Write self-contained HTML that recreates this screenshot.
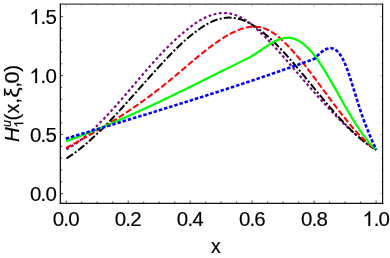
<!DOCTYPE html>
<html><head><meta charset="utf-8"><style>
html,body{margin:0;padding:0;background:#fff;}
svg{display:block;font-family:"Liberation Sans",sans-serif;will-change:transform;}
</style></head><body>
<svg width="390" height="258" viewBox="0 0 390 258">
<rect width="390" height="258" fill="#fff"/>
<g>
<path d="M66.5,149.21 L67.5,148.69 L68.5,148.14 L69.5,147.58 L70.5,147.00 L71.5,146.40 L72.5,145.78 L73.5,145.14 L74.5,144.49 L75.5,143.82 L76.5,143.13 L77.5,142.43 L78.5,141.71 L79.5,140.97 L80.5,140.22 L81.5,139.45 L82.5,138.67 L83.5,137.87 L84.5,137.05 L85.5,136.23 L86.5,135.38 L87.5,134.53 L88.5,133.66 L89.5,132.78 L90.5,131.88 L91.5,130.98 L92.5,130.06 L93.5,129.13 L94.5,128.18 L95.5,127.23 L96.5,126.26 L97.5,125.28 L98.5,124.30 L99.5,123.30 L100.5,122.29 L101.5,121.27 L102.5,120.25 L103.5,119.21 L104.5,118.17 L105.5,117.11 L106.5,116.05 L107.5,114.98 L108.5,113.90 L109.5,112.82 L110.5,111.73 L111.5,110.63 L112.5,109.53 L113.5,108.41 L114.5,107.30 L115.5,106.17 L116.5,105.05 L117.5,103.91 L118.5,102.78 L119.5,101.63 L120.5,100.49 L121.5,99.34 L122.5,98.18 L123.5,97.03 L124.5,95.86 L125.5,94.70 L126.5,93.54 L127.5,92.37 L128.5,91.20 L129.5,90.03 L130.5,88.86 L131.5,87.68 L132.5,86.51 L133.5,85.33 L134.5,84.16 L135.5,82.99 L136.5,81.81 L137.5,80.64 L138.5,79.47 L139.5,78.30 L140.5,77.13 L141.5,75.96 L142.5,74.79 L143.5,73.63 L144.5,72.47 L145.5,71.32 L146.5,70.16 L147.5,69.01 L148.5,67.87 L149.5,66.73 L150.5,65.59 L151.5,64.46 L152.5,63.33 L153.5,62.21 L154.5,61.09 L155.5,59.98 L156.5,58.88 L157.5,57.78 L158.5,56.69 L159.5,55.61 L160.5,54.53 L161.5,53.47 L162.5,52.41 L163.5,51.35 L164.5,50.31 L165.5,49.28 L166.5,48.25 L167.5,47.24 L168.5,46.23 L169.5,45.24 L170.5,44.25 L171.5,43.28 L172.5,42.31 L173.5,41.36 L174.5,40.42 L175.5,39.49 L176.5,38.57 L177.5,37.67 L178.5,36.78 L179.5,35.90 L180.5,35.03 L181.5,34.18 L182.5,33.34 L183.5,32.52 L184.5,31.71 L185.5,30.91 L186.5,30.07 L187.5,29.24 L188.5,28.42 L189.5,27.63 L190.5,26.85 L191.5,26.08 L192.5,25.34 L193.5,24.61 L194.5,23.91 L195.5,23.22 L196.5,22.55 L197.5,21.90 L198.5,21.27 L199.5,20.67 L200.5,20.08 L201.5,19.51 L202.5,18.97 L203.5,18.44 L204.5,17.94 L205.5,17.46 L206.5,17.01 L207.5,16.58 L208.5,16.16 L209.5,15.78 L210.5,15.42 L211.5,15.08 L212.5,14.76 L213.5,14.47 L214.5,14.21 L215.5,13.97 L216.5,13.76 L217.5,13.57 L218.5,13.41 L219.5,13.29 L220.5,13.19 L221.5,13.12 L222.5,13.07 L223.5,13.05 L224.5,13.05 L225.5,13.08 L226.5,13.14 L227.5,13.22 L228.5,13.33 L229.5,13.48 L230.5,13.66 L231.5,13.87 L232.5,14.11 L233.5,14.39 L234.5,14.69 L235.5,15.03 L236.5,15.40 L237.5,15.80 L238.5,16.23 L239.5,16.70 L240.5,17.20 L241.5,17.72 L242.5,18.28 L243.5,18.87 L244.5,19.48 L245.5,20.12 L246.5,20.79 L247.5,21.49 L248.5,22.21 L249.5,22.96 L250.5,23.73 L251.5,24.53 L252.5,25.35 L253.5,26.20 L254.5,27.06 L255.5,27.95 L256.5,28.86 L257.5,29.79 L258.5,30.74 L259.5,31.63 L260.5,32.54 L261.5,33.47 L262.5,34.41 L263.5,35.37 L264.5,36.34 L265.5,37.32 L266.5,38.32 L267.5,39.33 L268.5,40.36 L269.5,41.39 L270.5,42.44 L271.5,43.50 L272.5,44.57 L273.5,45.65 L274.5,46.74 L275.5,47.84 L276.5,48.94 L277.5,50.05 L278.5,51.17 L279.5,52.30 L280.5,53.43 L281.5,54.57 L282.5,55.71 L283.5,56.85 L284.5,58.00 L285.5,59.15 L286.5,60.31 L287.5,61.46 L288.5,62.62 L289.5,63.77 L290.5,64.93 L291.5,66.09 L292.5,67.25 L293.5,68.41 L294.5,69.58 L295.5,70.74 L296.5,71.90 L297.5,73.06 L298.5,74.22 L299.5,75.38 L300.5,76.54 L301.5,77.70 L302.5,78.86 L303.5,80.01 L304.5,81.17 L305.5,82.32 L306.5,83.47 L307.5,84.62 L308.5,85.77 L309.5,86.92 L310.5,88.06 L311.5,89.20 L312.5,90.34 L313.5,91.48 L314.5,92.61 L315.5,93.74 L316.5,94.86 L317.5,95.99 L318.5,97.10 L319.5,98.22 L320.5,99.33 L321.5,100.44 L322.5,101.54 L323.5,102.64 L324.5,103.73 L325.5,104.82 L326.5,105.90 L327.5,106.98 L328.5,108.05 L329.5,109.12 L330.5,110.18 L331.5,111.23 L332.5,112.28 L333.5,113.33 L334.5,114.36 L335.5,115.39 L336.5,116.42 L337.5,117.43 L338.5,118.44 L339.5,119.45 L340.5,120.44 L341.5,121.43 L342.5,122.41 L343.5,123.38 L344.5,124.34 L345.5,125.30 L346.5,126.24 L347.5,127.18 L348.5,128.11 L349.5,129.03 L350.5,129.94 L351.5,130.85 L352.5,131.74 L353.5,132.62 L354.5,133.50 L355.5,134.36 L356.5,135.21 L357.5,136.06 L358.5,136.89 L359.5,137.71 L360.5,138.52 L361.5,139.33 L362.5,140.12 L363.5,140.89 L364.5,141.66 L365.5,142.42 L366.5,143.16 L367.5,143.89 L368.5,144.61 L369.5,145.32 L370.5,146.01 L371.5,146.69 L372.5,147.36 L373.5,148.02 L374.5,148.66 L375.5,149.29 L376.3,149.79" fill="none" stroke="#800088" stroke-width="2.15" stroke-linejoin="round" stroke-dasharray='2.75 2.55'/>
<path d="M66.5,158.39 L67.5,157.76 L68.5,157.11 L69.5,156.46 L70.5,155.79 L71.5,155.11 L72.5,154.41 L73.5,153.70 L74.5,152.98 L75.5,152.25 L76.5,151.50 L77.5,150.75 L78.5,149.98 L79.5,149.20 L80.5,148.41 L81.5,147.60 L82.5,146.79 L83.5,145.96 L84.5,145.13 L85.5,144.28 L86.5,143.43 L87.5,142.56 L88.5,141.68 L89.5,140.80 L90.5,139.90 L91.5,139.00 L92.5,138.08 L93.5,137.16 L94.5,136.23 L95.5,135.29 L96.5,134.34 L97.5,133.39 L98.5,132.42 L99.5,131.45 L100.5,130.47 L101.5,129.48 L102.5,128.49 L103.5,127.49 L104.5,126.48 L105.5,125.46 L106.5,124.44 L107.5,123.42 L108.5,122.38 L109.5,121.34 L110.5,120.30 L111.5,119.25 L112.5,118.19 L113.5,117.13 L114.5,116.07 L115.5,115.00 L116.5,113.92 L117.5,112.84 L118.5,111.76 L119.5,110.67 L120.5,109.58 L121.5,108.48 L122.5,107.39 L123.5,106.29 L124.5,105.18 L125.5,104.07 L126.5,102.96 L127.5,101.85 L128.5,100.74 L129.5,99.62 L130.5,98.50 L131.5,97.38 L132.5,96.26 L133.5,95.14 L134.5,94.02 L135.5,92.89 L136.5,91.77 L137.5,90.64 L138.5,89.51 L139.5,88.39 L140.5,87.26 L141.5,86.13 L142.5,85.01 L143.5,83.88 L144.5,82.76 L145.5,81.64 L146.5,80.52 L147.5,79.39 L148.5,78.28 L149.5,77.16 L150.5,76.04 L151.5,74.93 L152.5,73.82 L153.5,72.71 L154.5,71.61 L155.5,70.50 L156.5,69.40 L157.5,68.31 L158.5,67.22 L159.5,66.13 L160.5,65.04 L161.5,63.96 L162.5,62.88 L163.5,61.81 L164.5,60.74 L165.5,59.68 L166.5,58.62 L167.5,57.57 L168.5,56.52 L169.5,55.48 L170.5,54.45 L171.5,53.42 L172.5,52.40 L173.5,51.39 L174.5,50.39 L175.5,49.39 L176.5,48.40 L177.5,47.43 L178.5,46.46 L179.5,45.50 L180.5,44.56 L181.5,43.62 L182.5,42.69 L183.5,41.78 L184.5,40.88 L185.5,39.99 L186.5,39.12 L187.5,38.26 L188.5,37.41 L189.5,36.57 L190.5,35.75 L191.5,34.95 L192.5,34.16 L193.5,33.39 L194.5,32.63 L195.5,31.89 L196.5,31.16 L197.5,30.43 L198.5,29.68 L199.5,28.95 L200.5,28.24 L201.5,27.55 L202.5,26.88 L203.5,26.23 L204.5,25.60 L205.5,25.00 L206.5,24.41 L207.5,23.85 L208.5,23.31 L209.5,22.79 L210.5,22.30 L211.5,21.83 L212.5,21.38 L213.5,20.95 L214.5,20.55 L215.5,20.18 L216.5,19.82 L217.5,19.50 L218.5,19.19 L219.5,18.92 L220.5,18.67 L221.5,18.44 L222.5,18.24 L223.5,18.07 L224.5,17.92 L225.5,17.80 L226.5,17.71 L227.5,17.65 L228.5,17.61 L229.5,17.60 L230.5,17.63 L231.5,17.67 L232.5,17.75 L233.5,17.86 L234.5,17.99 L235.5,18.15 L236.5,18.33 L237.5,18.55 L238.5,18.79 L239.5,19.06 L240.5,19.35 L241.5,19.67 L242.5,20.02 L243.5,20.39 L244.5,20.79 L245.5,21.21 L246.5,21.66 L247.5,22.14 L248.5,22.64 L249.5,23.16 L250.5,23.71 L251.5,24.28 L252.5,24.88 L253.5,25.50 L254.5,26.15 L255.5,26.82 L256.5,27.51 L257.5,28.22 L258.5,28.96 L259.5,29.72 L260.5,30.51 L261.5,31.27 L262.5,32.04 L263.5,32.82 L264.5,33.62 L265.5,34.44 L266.5,35.28 L267.5,36.13 L268.5,37.01 L269.5,37.90 L270.5,38.81 L271.5,39.73 L272.5,40.67 L273.5,41.63 L274.5,42.60 L275.5,43.58 L276.5,44.58 L277.5,45.59 L278.5,46.61 L279.5,47.65 L280.5,48.70 L281.5,49.76 L282.5,50.83 L283.5,51.92 L284.5,53.01 L285.5,54.11 L286.5,55.23 L287.5,56.35 L288.5,57.48 L289.5,58.62 L290.5,59.76 L291.5,60.92 L292.5,62.08 L293.5,63.25 L294.5,64.42 L295.5,65.60 L296.5,66.78 L297.5,67.97 L298.5,69.16 L299.5,70.36 L300.5,71.56 L301.5,72.76 L302.5,73.97 L303.5,75.18 L304.5,76.40 L305.5,77.61 L306.5,78.83 L307.5,80.05 L308.5,81.27 L309.5,82.50 L310.5,83.72 L311.5,84.94 L312.5,86.16 L313.5,87.39 L314.5,88.61 L315.5,89.83 L316.5,91.05 L317.5,92.27 L318.5,93.49 L319.5,94.70 L320.5,95.92 L321.5,97.13 L322.5,98.33 L323.5,99.54 L324.5,100.73 L325.5,101.93 L326.5,103.12 L327.5,104.31 L328.5,105.49 L329.5,106.66 L330.5,107.83 L331.5,109.00 L332.5,110.15 L333.5,111.30 L334.5,112.45 L335.5,113.58 L336.5,114.71 L337.5,115.83 L338.5,116.94 L339.5,118.05 L340.5,119.14 L341.5,120.23 L342.5,121.30 L343.5,122.37 L344.5,123.43 L345.5,124.47 L346.5,125.50 L347.5,126.53 L348.5,127.54 L349.5,128.54 L350.5,129.53 L351.5,130.50 L352.5,131.46 L353.5,132.41 L354.5,133.35 L355.5,134.27 L356.5,135.18 L357.5,136.07 L358.5,136.95 L359.5,137.81 L360.5,138.66 L361.5,139.49 L362.5,140.31 L363.5,141.11 L364.5,141.89 L365.5,142.66 L366.5,143.41 L367.5,144.14 L368.5,144.85 L369.5,145.55 L370.5,146.22 L371.5,146.88 L372.5,147.52 L373.5,148.14 L374.5,148.74 L375.5,149.32 L376.3,149.76" fill="none" stroke="#000" stroke-width="2.0" stroke-linejoin="round" stroke-dasharray='7.8 2.2 2 2.2'/>
<path d="M66.0,148.00 L67.0,147.47 L68.0,146.93 L69.0,146.40 L70.0,145.86 L71.0,145.32 L72.0,144.78 L73.0,144.24 L74.0,143.70 L75.0,143.16 L76.0,142.61 L77.0,142.06 L78.0,141.51 L79.0,140.96 L80.0,140.41 L81.0,139.86 L82.0,139.30 L83.0,138.74 L84.0,138.18 L85.0,137.62 L86.0,137.06 L87.0,136.49 L88.0,135.93 L89.0,135.36 L90.0,134.79 L91.0,134.21 L92.0,133.64 L93.0,133.06 L94.0,132.48 L95.0,131.90 L96.0,131.32 L97.0,130.73 L98.0,130.15 L99.0,129.56 L100.0,128.96 L101.0,128.37 L102.0,127.77 L103.0,127.18 L104.0,126.57 L105.0,125.97 L106.0,125.36 L107.0,124.76 L108.0,124.14 L109.0,123.53 L110.0,122.91 L111.0,122.30 L112.0,121.67 L113.0,121.05 L114.0,120.42 L115.0,119.80 L116.0,119.16 L117.0,118.53 L118.0,117.89 L119.0,117.25 L120.0,116.61 L121.0,115.96 L122.0,115.31 L123.0,114.66 L124.0,114.01 L125.0,113.35 L126.0,112.69 L127.0,112.02 L128.0,111.36 L129.0,110.69 L130.0,110.02 L131.0,109.34 L132.0,108.66 L133.0,107.98 L134.0,107.29 L135.0,106.60 L136.0,105.91 L137.0,105.22 L138.0,104.52 L139.0,103.81 L140.0,103.11 L141.0,102.40 L142.0,101.69 L143.0,100.97 L144.0,100.25 L145.0,99.53 L146.0,98.80 L147.0,98.07 L148.0,97.34 L149.0,96.60 L150.0,95.86 L151.0,95.11 L152.0,94.37 L153.0,93.61 L154.0,92.86 L155.0,92.10 L156.0,91.33 L157.0,90.56 L158.0,89.79 L159.0,89.02 L160.0,88.24 L161.0,87.45 L162.0,86.67 L163.0,85.87 L164.0,85.08 L165.0,84.28 L166.0,83.47 L167.0,82.67 L168.0,81.85 L169.0,81.04 L170.0,80.22 L171.0,79.39 L172.0,78.56 L173.0,77.73 L174.0,76.89 L175.0,76.06 L176.0,75.21 L177.0,74.37 L178.0,73.52 L179.0,72.68 L180.0,71.83 L181.0,70.98 L182.0,70.13 L183.0,69.27 L184.0,68.42 L185.0,67.57 L186.0,66.72 L187.0,65.87 L188.0,65.02 L189.0,64.17 L190.0,63.32 L191.0,62.47 L192.0,61.63 L193.0,60.79 L194.0,59.95 L195.0,59.11 L196.0,58.28 L197.0,57.45 L198.0,56.63 L199.0,55.81 L200.0,54.99 L201.0,54.18 L202.0,53.37 L203.0,52.57 L204.0,51.77 L205.0,50.98 L206.0,50.20 L207.0,49.42 L208.0,48.65 L209.0,47.88 L210.0,47.13 L211.0,46.38 L212.0,45.64 L213.0,44.90 L214.0,44.18 L215.0,43.46 L216.0,42.76 L217.0,42.06 L218.0,41.37 L219.0,40.69 L220.0,40.03 L221.0,39.37 L222.0,38.72 L223.0,38.09 L224.0,37.47 L225.0,36.86 L226.0,36.26 L227.0,35.67 L228.0,35.10 L229.0,34.55 L230.0,34.01 L231.0,33.48 L232.0,32.97 L233.0,32.48 L234.0,32.01 L235.0,31.55 L236.0,31.11 L237.0,30.68 L238.0,30.25 L239.0,29.83 L240.0,29.44 L241.0,29.07 L242.0,28.73 L243.0,28.41 L244.0,28.11 L245.0,27.84 L246.0,27.60 L247.0,27.38 L248.0,27.19 L249.0,27.03 L250.0,26.89 L251.0,26.79 L252.0,26.71 L253.0,26.66 L254.0,26.65 L255.0,26.66 L256.0,26.71 L257.0,26.79 L258.0,26.90 L259.0,27.05 L260.0,27.23 L261.0,27.44 L262.0,27.70 L263.0,27.98 L264.0,28.31 L265.0,28.67 L266.0,29.07 L267.0,29.50 L268.0,29.98 L269.0,30.49 L270.0,31.03 L271.0,31.58 L272.0,32.16 L273.0,32.79 L274.0,33.45 L275.0,34.15 L276.0,34.89 L277.0,35.66 L278.0,36.46 L279.0,37.30 L280.0,38.16 L281.0,39.05 L282.0,39.97 L283.0,40.92 L284.0,41.88 L285.0,42.87 L286.0,43.88 L287.0,44.91 L288.0,45.96 L289.0,47.02 L290.0,48.09 L291.0,49.18 L292.0,50.28 L293.0,51.39 L294.0,52.51 L295.0,53.64 L296.0,54.77 L297.0,55.90 L298.0,57.04 L299.0,58.19 L300.0,59.36 L301.0,60.53 L302.0,61.73 L303.0,62.94 L304.0,64.18 L305.0,65.43 L306.0,66.71 L307.0,68.00 L308.0,69.30 L309.0,70.61 L310.0,71.93 L311.0,73.26 L312.0,74.59 L313.0,75.92 L314.0,77.26 L315.0,78.61 L316.0,79.96 L317.0,81.31 L318.0,82.66 L319.0,84.02 L320.0,85.37 L321.0,86.73 L322.0,88.09 L323.0,89.45 L324.0,90.81 L325.0,92.17 L326.0,93.53 L327.0,94.88 L328.0,96.24 L329.0,97.59 L330.0,98.94 L331.0,100.28 L332.0,101.62 L333.0,102.96 L334.0,104.29 L335.0,105.62 L336.0,106.94 L337.0,108.25 L338.0,109.56 L339.0,110.86 L340.0,112.15 L341.0,113.43 L342.0,114.71 L343.0,115.97 L344.0,117.23 L345.0,118.48 L346.0,119.71 L347.0,120.94 L348.0,122.15 L349.0,123.36 L350.0,124.54 L351.0,125.72 L352.0,126.88 L353.0,128.03 L354.0,129.17 L355.0,130.29 L356.0,131.40 L357.0,132.48 L358.0,133.56 L359.0,134.62 L360.0,135.66 L361.0,136.68 L362.0,137.68 L363.0,138.67 L364.0,139.64 L365.0,140.58 L366.0,141.51 L367.0,142.42 L368.0,143.30 L369.0,144.17 L370.0,145.01 L371.0,145.84 L372.0,146.63 L373.0,147.41 L374.0,148.16 L375.0,148.89 L376.0,149.59 L376.3,149.80" fill="none" stroke="#ff0000" stroke-width="2.0" stroke-linejoin="round" stroke-dasharray='6.3 2.4'/>
<path d="M66.0,141.30 L67.0,140.94 L68.0,140.58 L69.0,140.21 L70.0,139.85 L71.0,139.48 L72.0,139.11 L73.0,138.74 L74.0,138.37 L75.0,138.00 L76.0,137.62 L77.0,137.24 L78.0,136.86 L79.0,136.48 L80.0,136.10 L81.0,135.72 L82.0,135.33 L83.0,134.95 L84.0,134.56 L85.0,134.17 L86.0,133.78 L87.0,133.39 L88.0,132.99 L89.0,132.60 L90.0,132.20 L91.0,131.80 L92.0,131.40 L93.0,131.00 L94.0,130.60 L95.0,130.20 L96.0,129.79 L97.0,129.38 L98.0,128.98 L99.0,128.57 L100.0,128.16 L101.0,127.74 L102.0,127.33 L103.0,126.92 L104.0,126.50 L105.0,126.08 L106.0,125.66 L107.0,125.24 L108.0,124.82 L109.0,124.40 L110.0,123.98 L111.0,123.55 L112.0,123.13 L113.0,122.70 L114.0,122.27 L115.0,121.84 L116.0,121.41 L117.0,120.98 L118.0,120.54 L119.0,120.11 L120.0,119.67 L121.0,119.24 L122.0,118.80 L123.0,118.36 L124.0,117.92 L125.0,117.48 L126.0,117.04 L127.0,116.59 L128.0,116.15 L129.0,115.71 L130.0,115.26 L131.0,114.81 L132.0,114.36 L133.0,113.91 L134.0,113.46 L135.0,113.01 L136.0,112.56 L137.0,112.11 L138.0,111.65 L139.0,111.20 L140.0,110.74 L141.0,110.28 L142.0,109.82 L143.0,109.36 L144.0,108.90 L145.0,108.44 L146.0,107.98 L147.0,107.52 L148.0,107.06 L149.0,106.59 L150.0,106.13 L151.0,105.66 L152.0,105.19 L153.0,104.73 L154.0,104.26 L155.0,103.79 L156.0,103.32 L157.0,102.85 L158.0,102.38 L159.0,101.90 L160.0,101.43 L161.0,100.96 L162.0,100.48 L163.0,100.01 L164.0,99.53 L165.0,99.06 L166.0,98.58 L167.0,98.10 L168.0,97.62 L169.0,97.14 L170.0,96.66 L171.0,96.18 L172.0,95.70 L173.0,95.22 L174.0,94.74 L175.0,94.26 L176.0,93.77 L177.0,93.29 L178.0,92.80 L179.0,92.32 L180.0,91.83 L181.0,91.35 L182.0,90.86 L183.0,90.37 L184.0,89.89 L185.0,89.40 L186.0,88.91 L187.0,88.42 L188.0,87.93 L189.0,87.44 L190.0,86.95 L191.0,86.46 L192.0,85.97 L193.0,85.48 L194.0,84.99 L195.0,84.50 L196.0,84.00 L197.0,83.51 L198.0,83.02 L199.0,82.52 L200.0,82.03 L201.0,81.53 L202.0,81.04 L203.0,80.55 L204.0,80.05 L205.0,79.55 L206.0,79.06 L207.0,78.56 L208.0,78.07 L209.0,77.57 L210.0,77.07 L211.0,76.58 L212.0,76.08 L213.0,75.58 L214.0,75.09 L215.0,74.59 L216.0,74.09 L217.0,73.59 L218.0,73.09 L219.0,72.60 L220.0,72.10 L221.0,71.60 L222.0,71.10 L223.0,70.60 L224.0,70.10 L225.0,69.61 L226.0,69.11 L227.0,68.61 L228.0,68.11 L229.0,67.61 L230.0,67.11 L231.0,66.61 L232.0,66.11 L233.0,65.61 L234.0,65.12 L235.0,64.62 L236.0,64.12 L237.0,63.62 L238.0,63.12 L239.0,62.62 L240.0,62.12 L241.0,61.63 L242.0,61.13 L243.0,60.63 L244.0,60.13 L245.0,59.63 L246.0,59.14 L247.0,58.64 L248.0,58.14 L249.0,57.64 L250.0,57.15 L250.3,57.00 L251.3,56.41 L252.3,55.80 L253.3,55.18 L254.3,54.54 L255.3,53.88 L256.3,53.22 L257.3,52.55 L258.3,51.87 L259.3,51.18 L260.3,50.49 L261.3,49.80 L262.3,49.11 L263.3,48.43 L264.3,47.74 L265.3,47.07 L266.3,46.40 L267.3,45.74 L268.3,45.10 L269.3,44.47 L270.3,43.85 L271.3,43.26 L272.3,42.68 L273.3,42.13 L274.3,41.59 L275.3,41.09 L276.3,40.61 L277.3,40.16 L278.3,39.75 L279.3,39.37 L280.3,39.02 L281.3,38.71 L282.3,38.44 L283.3,38.21 L284.3,38.02 L285.3,37.88 L286.3,37.79 L287.3,37.74 L288.3,37.75 L289.3,37.81 L290.3,37.92 L291.3,38.08 L292.3,38.30 L293.3,38.57 L294.3,38.88 L295.3,39.25 L296.3,39.67 L297.3,40.14 L298.3,40.66 L299.3,41.22 L300.3,41.84 L301.3,42.51 L302.3,43.22 L303.3,43.98 L304.3,44.79 L305.3,45.64 L306.3,46.54 L307.3,47.49 L308.3,48.49 L309.3,49.53 L310.3,50.61 L311.3,51.74 L312.3,52.91 L313.3,54.13 L314.3,55.39 L315.3,56.70 L316.3,58.05 L317.3,59.44 L318.3,60.87 L319.3,62.34 L320.3,63.84 L321.3,65.37 L322.3,66.93 L323.3,68.52 L324.3,70.13 L325.3,71.77 L326.3,73.42 L327.3,75.09 L328.3,76.78 L329.3,78.48 L330.3,80.19 L331.3,81.91 L332.3,83.65 L333.3,85.39 L334.3,87.14 L335.3,88.90 L336.3,90.66 L337.3,92.43 L338.3,94.20 L339.3,95.97 L340.3,97.73 L341.3,99.50 L342.3,101.26 L343.3,103.02 L344.3,104.78 L345.3,106.52 L346.3,108.26 L347.3,109.99 L348.3,111.71 L349.3,113.41 L350.3,115.10 L351.3,116.78 L352.3,118.44 L353.3,120.08 L354.3,121.70 L355.3,123.30 L356.3,124.88 L357.3,126.43 L358.3,127.97 L359.3,129.47 L360.3,130.95 L361.3,132.40 L362.3,133.82 L363.3,135.21 L364.3,136.56 L365.3,137.88 L366.3,139.17 L367.3,140.42 L368.3,141.63 L369.3,142.80 L370.3,143.93 L371.3,145.02 L372.3,146.07 L373.3,147.07 L374.3,148.03 L375.3,148.93 L376.3,149.79" fill="none" stroke="#00ff00" stroke-width="2.2" stroke-linejoin="round" />
<path d="M65.8,138.70 L66.8,138.40 L67.8,138.09 L68.8,137.79 L69.8,137.49 L70.8,137.19 L71.8,136.88 L72.8,136.58 L73.8,136.28 L74.8,135.97 L75.8,135.67 L76.8,135.37 L77.8,135.07 L78.8,134.76 L79.8,134.46 L80.8,134.16 L81.8,133.86 L82.8,133.55 L83.8,133.25 L84.8,132.95 L85.8,132.65 L86.8,132.34 L87.8,132.04 L88.8,131.74 L89.8,131.44 L90.8,131.13 L91.8,130.83 L92.8,130.53 L93.8,130.23 L94.8,129.92 L95.8,129.62 L96.8,129.32 L97.8,129.02 L98.8,128.71 L99.8,128.41 L100.8,128.11 L101.8,127.80 L102.8,127.50 L103.8,127.20 L104.8,126.90 L105.8,126.59 L106.8,126.29 L107.8,125.99 L108.8,125.68 L109.8,125.38 L110.8,125.08 L111.8,124.77 L112.8,124.47 L113.8,124.17 L114.8,123.86 L115.8,123.56 L116.8,123.26 L117.8,122.95 L118.8,122.65 L119.8,122.35 L120.8,122.04 L121.8,121.74 L122.8,121.43 L123.8,121.13 L124.8,120.82 L125.8,120.52 L126.8,120.22 L127.8,119.91 L128.8,119.61 L129.8,119.30 L130.8,119.00 L131.8,118.69 L132.8,118.39 L133.8,118.08 L134.8,117.78 L135.8,117.47 L136.8,117.17 L137.8,116.86 L138.8,116.55 L139.8,116.25 L140.8,115.94 L141.8,115.64 L142.8,115.33 L143.8,115.02 L144.8,114.72 L145.8,114.41 L146.8,114.10 L147.8,113.80 L148.8,113.49 L149.8,113.18 L150.8,112.87 L151.8,112.57 L152.8,112.26 L153.8,111.95 L154.8,111.64 L155.8,111.34 L156.8,111.03 L157.8,110.72 L158.8,110.41 L159.8,110.10 L160.8,109.79 L161.8,109.48 L162.8,109.17 L163.8,108.86 L164.8,108.55 L165.8,108.24 L166.8,107.93 L167.8,107.62 L168.8,107.31 L169.8,107.00 L170.8,106.69 L171.8,106.38 L172.8,106.07 L173.8,105.76 L174.8,105.45 L175.8,105.13 L176.8,104.82 L177.8,104.51 L178.8,104.20 L179.8,103.88 L180.8,103.57 L181.8,103.26 L182.8,102.94 L183.8,102.63 L184.8,102.32 L185.8,102.00 L186.8,101.69 L187.8,101.37 L188.8,101.06 L189.8,100.74 L190.8,100.43 L191.8,100.11 L192.8,99.80 L193.8,99.48 L194.8,99.17 L195.8,98.85 L196.8,98.53 L197.8,98.22 L198.8,97.90 L199.8,97.58 L200.8,97.26 L201.8,96.94 L202.8,96.63 L203.8,96.31 L204.8,95.99 L205.8,95.67 L206.8,95.35 L207.8,95.03 L208.8,94.71 L209.8,94.39 L210.8,94.07 L211.8,93.75 L212.8,93.43 L213.8,93.11 L214.8,92.78 L215.8,92.46 L216.8,92.14 L217.8,91.82 L218.8,91.49 L219.8,91.17 L220.8,90.85 L221.8,90.52 L222.8,90.20 L223.8,89.87 L224.8,89.55 L225.8,89.22 L226.8,88.90 L227.8,88.57 L228.8,88.25 L229.8,87.92 L230.8,87.59 L231.8,87.27 L232.8,86.94 L233.8,86.61 L234.8,86.28 L235.8,85.95 L236.8,85.62 L237.8,85.30 L238.8,84.97 L239.8,84.64 L240.8,84.31 L241.8,83.97 L242.8,83.64 L243.8,83.31 L244.8,82.98 L245.8,82.65 L246.8,82.32 L247.8,81.98 L248.8,81.65 L249.8,81.32 L250.8,80.98 L251.8,80.65 L252.8,80.31 L253.8,79.98 L254.8,79.64 L255.8,79.31 L256.8,78.97 L257.8,78.63 L258.8,78.30 L259.8,77.96 L260.8,77.62 L261.8,77.28 L262.8,76.94 L263.8,76.60 L264.8,76.26 L265.8,75.92 L266.8,75.58 L267.8,75.24 L268.8,74.90 L269.8,74.56 L270.8,74.22 L271.8,73.87 L272.8,73.53 L273.8,73.19 L274.8,72.84 L275.8,72.50 L276.8,72.16 L277.8,71.81 L278.8,71.46 L279.8,71.12 L280.8,70.77 L281.8,70.42 L282.8,70.08 L283.8,69.73 L284.8,69.38 L285.8,69.03 L286.8,68.68 L287.8,68.33 L288.8,67.98 L289.8,67.63 L290.8,67.28 L291.8,66.93 L292.8,66.58 L293.8,66.22 L294.8,65.87 L295.8,65.52 L296.8,65.16 L297.8,64.81 L298.8,64.45 L299.8,64.10 L300.8,63.74 L301.8,63.39 L302.8,63.03 L303.8,62.67 L304.8,62.31 L305.8,61.96 L306.8,61.60 L307.8,61.24 L308.8,60.88 L309.8,60.52 L310.8,60.15 L311.8,59.79 L312.8,59.43 L313.8,59.07 L314.5,58.81 L315.5,57.74 L316.5,56.71 L317.5,55.70 L318.5,54.73 L319.5,53.80 L320.5,52.92 L321.5,52.09 L322.5,51.33 L323.5,50.63 L324.5,50.01 L325.5,49.46 L326.5,49.00 L327.5,48.64 L328.5,48.37 L329.5,48.21 L330.5,48.16 L331.5,48.23 L332.5,48.43 L333.5,48.75 L334.5,49.21 L335.5,49.81 L336.5,50.56 L337.5,51.46 L338.5,52.53 L339.5,53.77 L340.5,55.17 L341.5,56.76 L342.5,58.54 L343.5,60.51 L344.5,62.67 L345.5,65.03 L346.5,67.55 L347.5,70.23 L348.5,73.04 L349.5,75.97 L350.5,79.00 L351.5,82.10 L352.5,85.28 L353.5,88.49 L354.5,91.73 L355.5,94.99 L356.5,98.23 L357.5,101.45 L358.5,104.62 L359.5,107.73 L360.5,110.76 L361.5,113.71 L362.5,116.57 L363.5,119.36 L364.5,122.07 L365.5,124.71 L366.5,127.29 L367.5,129.80 L368.5,132.25 L369.5,134.65 L370.5,137.00 L371.5,139.30 L372.5,141.55 L373.5,143.77 L374.5,145.95 L375.5,148.09 L376.3,149.79" fill="none" stroke="#0000ff" stroke-width="2.6" stroke-linejoin="round" stroke-dasharray='3.5 1.9'/>
</g>
<g stroke="#333" stroke-width="0.9"><line x1="66.20" y1="203.35" x2="66.20" y2="200.54999999999998"/><line x1="66.20" y1="4.05" x2="66.20" y2="6.85" opacity="0.3"/><line x1="81.70" y1="203.35" x2="81.70" y2="201.54999999999998"/><line x1="81.70" y1="4.05" x2="81.70" y2="5.85" opacity="0.3"/><line x1="97.19" y1="203.35" x2="97.19" y2="201.54999999999998"/><line x1="97.19" y1="4.05" x2="97.19" y2="5.85" opacity="0.3"/><line x1="112.69" y1="203.35" x2="112.69" y2="201.54999999999998"/><line x1="112.69" y1="4.05" x2="112.69" y2="5.85" opacity="0.3"/><line x1="128.18" y1="203.35" x2="128.18" y2="200.54999999999998"/><line x1="128.18" y1="4.05" x2="128.18" y2="6.85" opacity="0.3"/><line x1="143.68" y1="203.35" x2="143.68" y2="201.54999999999998"/><line x1="143.68" y1="4.05" x2="143.68" y2="5.85" opacity="0.3"/><line x1="159.17" y1="203.35" x2="159.17" y2="201.54999999999998"/><line x1="159.17" y1="4.05" x2="159.17" y2="5.85" opacity="0.3"/><line x1="174.66" y1="203.35" x2="174.66" y2="201.54999999999998"/><line x1="174.66" y1="4.05" x2="174.66" y2="5.85" opacity="0.3"/><line x1="190.16" y1="203.35" x2="190.16" y2="200.54999999999998"/><line x1="190.16" y1="4.05" x2="190.16" y2="6.85" opacity="0.3"/><line x1="205.66" y1="203.35" x2="205.66" y2="201.54999999999998"/><line x1="205.66" y1="4.05" x2="205.66" y2="5.85" opacity="0.3"/><line x1="221.15" y1="203.35" x2="221.15" y2="201.54999999999998"/><line x1="221.15" y1="4.05" x2="221.15" y2="5.85" opacity="0.3"/><line x1="236.64" y1="203.35" x2="236.64" y2="201.54999999999998"/><line x1="236.64" y1="4.05" x2="236.64" y2="5.85" opacity="0.3"/><line x1="252.14" y1="203.35" x2="252.14" y2="200.54999999999998"/><line x1="252.14" y1="4.05" x2="252.14" y2="6.85" opacity="0.3"/><line x1="267.63" y1="203.35" x2="267.63" y2="201.54999999999998"/><line x1="267.63" y1="4.05" x2="267.63" y2="5.85" opacity="0.3"/><line x1="283.13" y1="203.35" x2="283.13" y2="201.54999999999998"/><line x1="283.13" y1="4.05" x2="283.13" y2="5.85" opacity="0.3"/><line x1="298.62" y1="203.35" x2="298.62" y2="201.54999999999998"/><line x1="298.62" y1="4.05" x2="298.62" y2="5.85" opacity="0.3"/><line x1="314.12" y1="203.35" x2="314.12" y2="200.54999999999998"/><line x1="314.12" y1="4.05" x2="314.12" y2="6.85" opacity="0.3"/><line x1="329.61" y1="203.35" x2="329.61" y2="201.54999999999998"/><line x1="329.61" y1="4.05" x2="329.61" y2="5.85" opacity="0.3"/><line x1="345.11" y1="203.35" x2="345.11" y2="201.54999999999998"/><line x1="345.11" y1="4.05" x2="345.11" y2="5.85" opacity="0.3"/><line x1="360.60" y1="203.35" x2="360.60" y2="201.54999999999998"/><line x1="360.60" y1="4.05" x2="360.60" y2="5.85" opacity="0.3"/><line x1="376.10" y1="203.35" x2="376.10" y2="200.54999999999998"/><line x1="376.10" y1="4.05" x2="376.10" y2="6.85" opacity="0.3"/><line x1="60.35" y1="193.60" x2="63.15" y2="193.60"/><line x1="382.6" y1="193.60" x2="379.8" y2="193.60" opacity="0.3"/><line x1="60.35" y1="181.80" x2="62.15" y2="181.80"/><line x1="382.6" y1="181.80" x2="380.8" y2="181.80" opacity="0.3"/><line x1="60.35" y1="170.00" x2="62.15" y2="170.00"/><line x1="382.6" y1="170.00" x2="380.8" y2="170.00" opacity="0.3"/><line x1="60.35" y1="158.20" x2="62.15" y2="158.20"/><line x1="382.6" y1="158.20" x2="380.8" y2="158.20" opacity="0.3"/><line x1="60.35" y1="146.40" x2="62.15" y2="146.40"/><line x1="382.6" y1="146.40" x2="380.8" y2="146.40" opacity="0.3"/><line x1="60.35" y1="134.60" x2="63.15" y2="134.60"/><line x1="382.6" y1="134.60" x2="379.8" y2="134.60" opacity="0.3"/><line x1="60.35" y1="122.80" x2="62.15" y2="122.80"/><line x1="382.6" y1="122.80" x2="380.8" y2="122.80" opacity="0.3"/><line x1="60.35" y1="111.00" x2="62.15" y2="111.00"/><line x1="382.6" y1="111.00" x2="380.8" y2="111.00" opacity="0.3"/><line x1="60.35" y1="99.20" x2="62.15" y2="99.20"/><line x1="382.6" y1="99.20" x2="380.8" y2="99.20" opacity="0.3"/><line x1="60.35" y1="87.40" x2="62.15" y2="87.40"/><line x1="382.6" y1="87.40" x2="380.8" y2="87.40" opacity="0.3"/><line x1="60.35" y1="75.60" x2="63.15" y2="75.60"/><line x1="382.6" y1="75.60" x2="379.8" y2="75.60" opacity="0.3"/><line x1="60.35" y1="63.80" x2="62.15" y2="63.80"/><line x1="382.6" y1="63.80" x2="380.8" y2="63.80" opacity="0.3"/><line x1="60.35" y1="52.00" x2="62.15" y2="52.00"/><line x1="382.6" y1="52.00" x2="380.8" y2="52.00" opacity="0.3"/><line x1="60.35" y1="40.20" x2="62.15" y2="40.20"/><line x1="382.6" y1="40.20" x2="380.8" y2="40.20" opacity="0.3"/><line x1="60.35" y1="28.40" x2="62.15" y2="28.40"/><line x1="382.6" y1="28.40" x2="380.8" y2="28.40" opacity="0.3"/><line x1="60.35" y1="16.60" x2="63.15" y2="16.60"/><line x1="382.6" y1="16.60" x2="379.8" y2="16.60" opacity="0.3"/></g>
<line x1="60.35" y1="4.05" x2="382.6" y2="4.05" stroke="#444" stroke-width="1.3"/>
<line x1="382.6" y1="3.4499999999999997" x2="382.6" y2="203.95" stroke="#111" stroke-width="1.2"/>
<line x1="60.35" y1="3.4499999999999997" x2="60.35" y2="203.95" stroke="#111" stroke-width="1.3"/>
<line x1="59.75" y1="203.35" x2="383.20000000000005" y2="203.35" stroke="#111" stroke-width="1.1"/>
<g font-size="20.5px" fill="#000" stroke="#000" stroke-width="0.15"><text x="52.65" y="226.00" letter-spacing="-0.8">0.0</text><text x="114.73" y="226.00" letter-spacing="-0.8">0.2</text><text x="176.81" y="226.00" letter-spacing="-0.8">0.4</text><text x="238.89" y="226.00" letter-spacing="-0.8">0.6</text><text x="300.97" y="226.00" letter-spacing="-0.8">0.8</text><path transform="translate(362.55,226.00) scale(0.01001,-0.01001)" d="M763 0H583V1147Q518 1085 412.5 1023Q307 961 223 930V1104Q374 1175 487 1276Q600 1377 647 1472H763Z" stroke-width="15.0" /><text x="373.65" y="226.00" letter-spacing="-0.8">.0</text><text x="29.90" y="201.05" letter-spacing="-0.8">0.0</text><text x="29.90" y="142.05" letter-spacing="-0.8">0.5</text><path transform="translate(29.40,83.05) scale(0.01001,-0.01001)" d="M763 0H583V1147Q518 1085 412.5 1023Q307 961 223 930V1104Q374 1175 487 1276Q600 1377 647 1472H763Z" stroke-width="15.0" /><text x="40.50" y="83.05" letter-spacing="-0.8">.0</text><path transform="translate(29.40,24.05) scale(0.01001,-0.01001)" d="M763 0H583V1147Q518 1085 412.5 1023Q307 961 223 930V1104Q374 1175 487 1276Q600 1377 647 1472H763Z" stroke-width="15.0" /><text x="40.50" y="24.05" letter-spacing="-0.8">.5</text>
<text x="215.85" y="252.6" text-anchor="middle" font-size="19.5px">x</text>
<g transform="translate(19.4,140.9) rotate(-90)" font-size="19.5px">
<text transform="translate(-1.0,0) scale(1.04,1.03)" x="0" y="0" font-style="italic">H</text>
<path transform="translate(13.20,3.90) scale(0.00635,-0.00635)" d="M763 0H583V1147Q518 1085 412.5 1023Q307 961 223 930V1104Q374 1175 487 1276Q600 1377 647 1472H763Z" stroke-width="23.6" />
<text x="13.8" y="-8.9" font-size="12.5px" font-style="italic">u</text>
<text x="20.3" y="-0.8" font-size="20.5px">(</text>
<text x="27.5" y="0">x</text>
<text x="37.4" y="0">,</text>
<text transform="translate(43.1,0) scale(1.2,1)" x="0" y="0">ξ</text>
<text x="53.3" y="0">,</text>
<text transform="translate(57.5,0) scale(1.12,1)" x="0" y="0">0</text>
<text x="69.2" y="-0.8" font-size="20.5px">)</text>
</g>
</g>
</svg>
</body></html>
